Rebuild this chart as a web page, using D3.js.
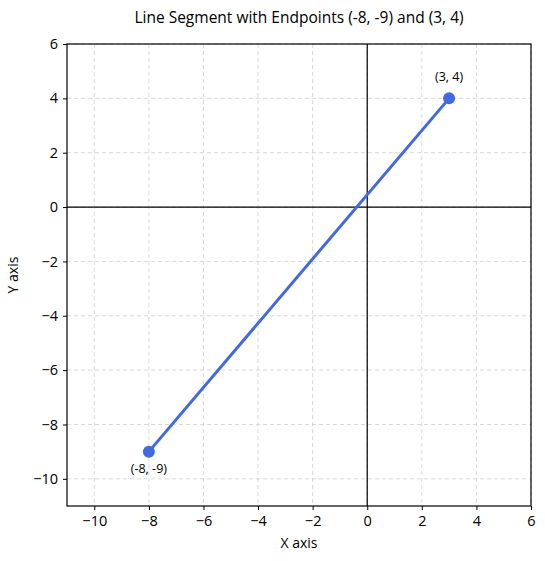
<!DOCTYPE html>
<html lang="en">
<head>
  <meta charset="UTF-8">
  <title>Line Segment with Endpoints</title>
  <script src="https://d3js.org/d3.v7.min.js"></script>
  <style>
    body { margin: 0; background: #fff; }
    svg { font-family: "Open Sans", sans-serif; }
    .grid line { stroke: #cfcfcf; stroke-dasharray: 4 3; stroke-width: 0.8; }
  </style>
</head>
<body>
<svg width="545" height="561"></svg>
<script>
const title = "Line Segment with Endpoints (-8, -9) and (3, 4)";
const xDomain = [-11, 6];
const yDomain = [-11, 6];
const xTicks = [-10, -8, -6, -4, -2, 0, 2, 4, 6];
const yTicks = [-10, -8, -6, -4, -2, 0, 2, 4, 6];
const points = [
  { x: -8, y: -9, label: "(-8, -9)", pos: "below" },
  { x: 3, y: 4, label: "(3, 4)", pos: "above" }
];

const margin = { top: 44, right: 14, bottom: 55, left: 67 };
const width = 545 - margin.left - margin.right;
const height = 561 - margin.top - margin.bottom;

const svg = d3.select("svg");
const g = svg.append("g").attr("transform", `translate(${margin.left},${margin.top})`);

const x = d3.scaleLinear().domain(xDomain).range([0, width]);
const y = d3.scaleLinear().domain(yDomain).range([height, 0]);

// grid
g.append("g").attr("class", "grid")
  .selectAll("line").data(xTicks).enter().append("line")
  .attr("x1", d => x(d)).attr("x2", d => x(d))
  .attr("y1", 0).attr("y2", height);
g.append("g").attr("class", "grid")
  .selectAll("line").data(yTicks).enter().append("line")
  .attr("y1", d => y(d)).attr("y2", d => y(d))
  .attr("x1", 0).attr("x2", width);

// zero lines
g.append("line")
  .attr("x1", x(0)).attr("x2", x(0)).attr("y1", 0).attr("y2", height)
  .attr("stroke", "#000").attr("stroke-width", 1.2);
g.append("line")
  .attr("y1", y(0)).attr("y2", y(0)).attr("x1", 0).attr("x2", width)
  .attr("stroke", "#000").attr("stroke-width", 1.2);

// axes
const fmt = d => String(d).replace("-", "\u2212");
const xAxis = g.append("g")
  .attr("transform", `translate(0,${height})`)
  .call(d3.axisBottom(x).tickValues(xTicks).tickSize(4).tickPadding(6).tickFormat(fmt));
const yAxis = g.append("g")
  .call(d3.axisLeft(y).tickValues(yTicks).tickSize(4).tickPadding(5).tickFormat(fmt));
[xAxis, yAxis].forEach(a => {
  a.attr("font-family", "'Open Sans', sans-serif").attr("font-size", 14.5);
  a.select(".domain").remove();
  a.selectAll(".tick line").attr("stroke", "#000");
  a.selectAll(".tick text").attr("fill", "#000");
});

// frame
g.append("rect")
  .attr("width", width).attr("height", height)
  .attr("fill", "none").attr("stroke", "#000").attr("stroke-width", 1.2);

// segment
g.append("path")
  .datum(points)
  .attr("d", d3.line().x(d => x(d.x)).y(d => y(d.y)))
  .attr("fill", "none")
  .attr("stroke", "#4169e1")
  .attr("stroke-width", 3);

g.selectAll(".pt").data(points).enter().append("circle")
  .attr("class", "pt")
  .attr("cx", d => x(d.x)).attr("cy", d => y(d.y))
  .attr("r", 6)
  .attr("fill", "#4169e1");

g.selectAll(".lbl").data(points).enter().append("text")
  .attr("x", d => x(d.x))
  .attr("y", d => y(d.y) + (d.pos === "above" ? -17 : 21))
  .attr("text-anchor", "middle")
  .attr("font-size", "12.5px")
  .text(d => d.label);

// titles
svg.append("text")
  .attr("x", margin.left + width / 2).attr("y", 23)
  .attr("text-anchor", "middle")
  .attr("font-size", "15.5px")
  .text(title);
svg.append("text")
  .attr("x", margin.left + width / 2).attr("y", 548)
  .attr("text-anchor", "middle")
  .attr("font-size", "14px")
  .text("X axis");
svg.append("text")
  .attr("transform", `translate(18,${margin.top + height / 2}) rotate(-90)`)
  .attr("text-anchor", "middle")
  .attr("font-size", "14px")
  .text("Y axis");
</script>
</body>
</html>
